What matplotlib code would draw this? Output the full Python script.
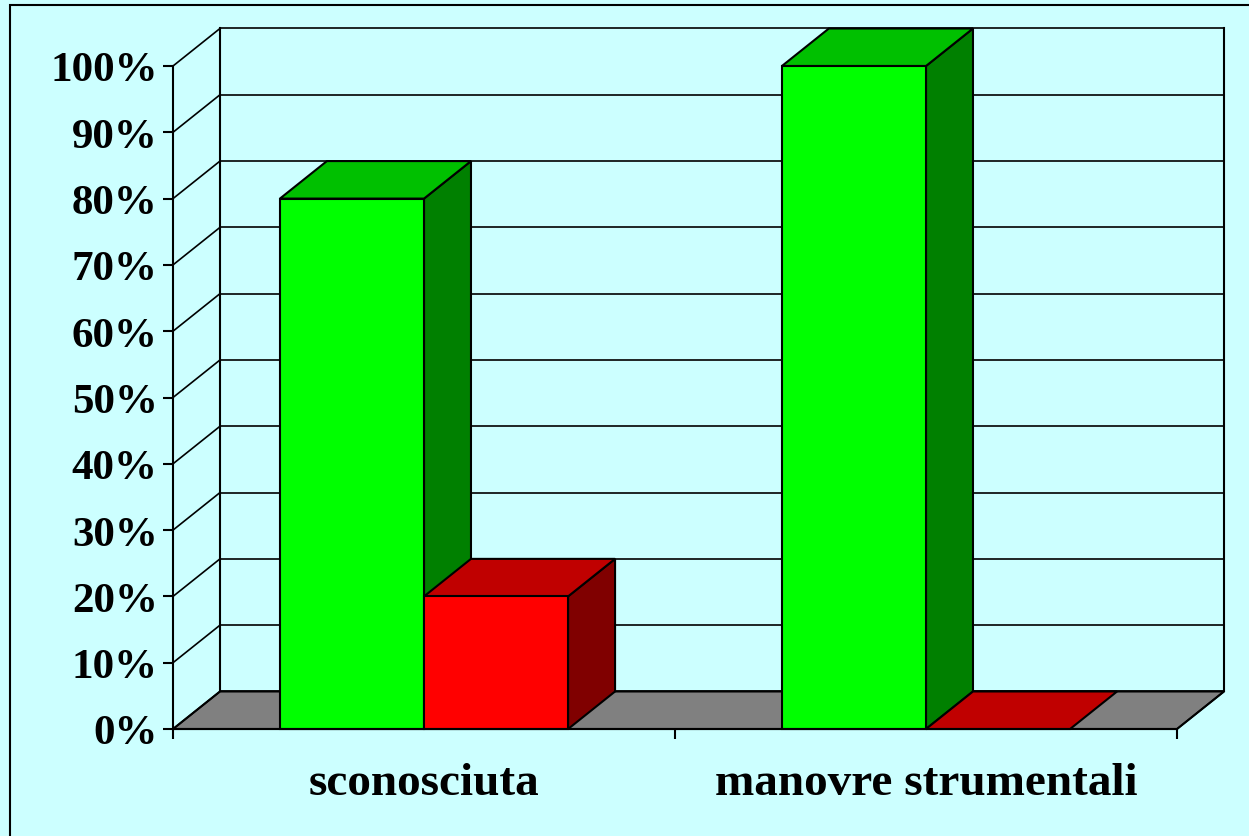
import matplotlib
matplotlib.use('Agg')
import matplotlib.pyplot as plt
from matplotlib.patches import Rectangle, Polygon

categories = ['sconosciuta', 'manovre strumentali']
green_vals = [80, 100]
red_vals = [20, 0]
yticks = [0, 10, 20, 30, 40, 50, 60, 70, 80, 90, 100]

bg = '#CCFFFF'
W, H = 1249, 837

plt.rcParams['font.family'] = ['Liberation Serif', 'DejaVu Serif']
plt.rcParams['font.weight'] = 'bold'

fig = plt.figure(figsize=(W / 100, H / 100), dpi=100, facecolor=bg)

# outer frame (only top / left edges visible in the original)
fig.patches.append(Rectangle((10 / W, -0.1), 1.2, 1 - 6 / H + 0.1, transform=fig.transFigure,
                             facecolor='none', edgecolor='black', lw=1.5, zorder=-10))

# axes = front plane of the 3d box
ax = fig.add_axes([173 / W, 1 - 730 / H, (1177 - 173) / W, (730 - 67) / H])
ax.set_xlim(0, 2)
ax.set_ylim(0, 100)
ax.patch.set_visible(False)

dx = 0.0936   # depth in category units
dy = 5.66     # depth in percent units
gap = 0.213
bw = 0.287

# floor
ax.add_patch(Polygon([(0, 0), (dx, dy), (2 + dx, dy), (2, 0)], closed=True,
                     facecolor='#808080', edgecolor='black', lw=1.5, clip_on=False, zorder=1))

# back wall and left wall grid
for t in yticks:
    ax.plot([dx, 2 + dx], [t + dy, t + dy], color='black', lw=1.2, clip_on=False, zorder=1)
    ax.plot([0, dx], [t, t + dy], color='black', lw=1.2, clip_on=False, zorder=1)
ax.plot([dx, dx], [dy, 100 + dy], color='black', lw=1.5, clip_on=False, zorder=1)
ax.plot([2 + dx, 2 + dx], [dy, 100 + dy], color='black', lw=1.5, clip_on=False, zorder=1)
ax.plot([2, 2 + dx], [0, dy], color='black', lw=1.2, clip_on=False, zorder=1)


def bar3d(x0, h, front, top, side, z):
    side_pts = [(x0 + bw, 0), (x0 + bw + dx, dy), (x0 + bw + dx, h + dy), (x0 + bw, h)]
    top_pts = [(x0, h), (x0 + dx, h + dy), (x0 + bw + dx, h + dy), (x0 + bw, h)]
    if h > 0:
        ax.add_patch(Polygon(side_pts, facecolor=side, edgecolor='black', lw=1.5,
                             clip_on=False, zorder=z))
    ax.add_patch(Polygon(top_pts, facecolor=top, edgecolor='black', lw=1.5,
                         clip_on=False, zorder=z))
    if h > 0:
        ax.add_patch(Rectangle((x0, 0), bw, h, facecolor=front, edgecolor='black', lw=1.5,
                               clip_on=False, zorder=z))


z = 2
for i in range(len(categories)):
    bar3d(i + gap, green_vals[i], '#00FF00', '#00C000', '#008000', z)
    z += 1
    bar3d(i + gap + bw, red_vals[i], '#FF0000', '#C00000', '#800000', z)
    z += 1

# axes spines / ticks
for s in ['top', 'right']:
    ax.spines[s].set_visible(False)
ax.spines['left'].set_linewidth(1.5)
ax.spines['bottom'].set_linewidth(1.5)
ax.spines['left'].set_zorder(10)
ax.spines['bottom'].set_zorder(10)

ax.set_yticks(yticks)
ax.set_yticklabels([f'{t}%' for t in yticks], fontsize=31, fontweight='bold')
ax.tick_params(axis='y', length=7, width=1.5, pad=4)

ax.set_xticks([0, 1, 2])
ax.set_xticklabels(['', '', ''])
ax.tick_params(axis='x', which='major', length=7, width=1.5, direction='out')
ax.set_xticks([0.5, 1.5], minor=True)
ax.set_xticklabels(categories, minor=True, fontsize=34, fontweight='bold')
ax.tick_params(axis='x', which='minor', length=0, pad=24)

fig.savefig('out.png', dpi=100, facecolor=bg)
